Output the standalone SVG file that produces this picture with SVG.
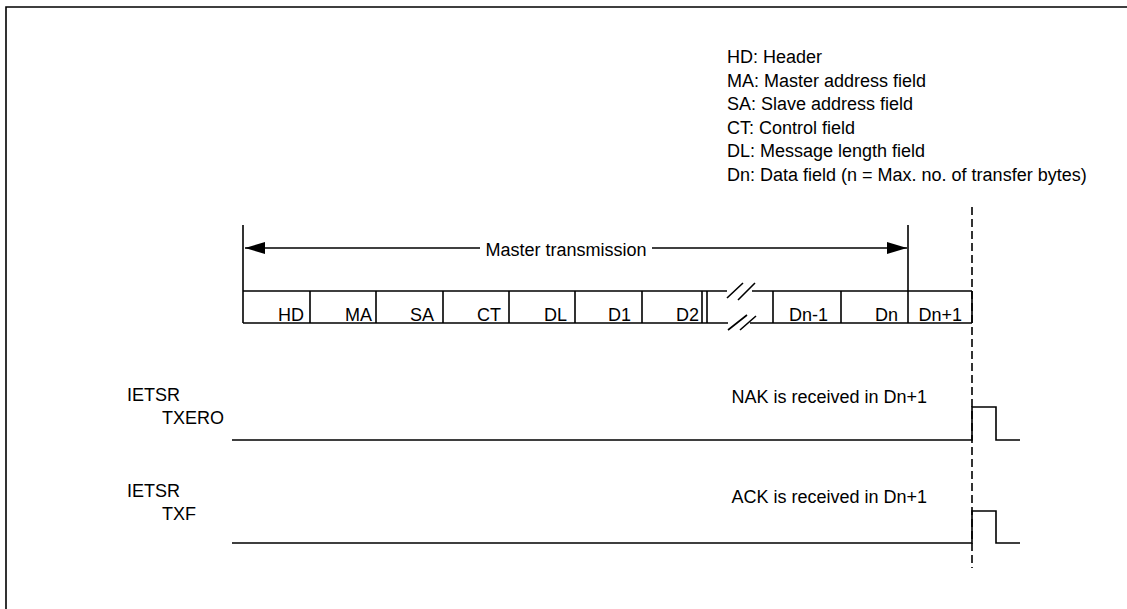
<svg xmlns="http://www.w3.org/2000/svg" width="1127" height="609" viewBox="0 0 1127 609">
<defs>
<style>
text{font-family:"Liberation Sans",Arial,sans-serif;font-size:18px;fill:#000}
.ln{stroke:#000;stroke-width:1.6;fill:none}
.e{text-anchor:end}
</style>
<marker id="ah" viewBox="0 0 20 12" refX="20" refY="6" markerWidth="20" markerHeight="12" markerUnits="userSpaceOnUse" orient="auto-start-reverse">
<path d="M0,0 L20,6 L0,12 Z" fill="#000"/>
</marker>
</defs>
<rect width="1127" height="609" fill="#fff"/>
<g id="frame">
<path class="ln" d="M6,609 V7 H1127" stroke-width="2"/>
</g>
<g id="legend">
<text x="727" y="63">HD: Header</text>
<text x="727" y="87">MA: Master address field</text>
<text x="727" y="110">SA: Slave address field</text>
<text x="727" y="134">CT: Control field</text>
<text x="727" y="157">DL: Message length field</text>
<text x="727" y="181">Dn: Data field (n = Max. no. of transfer bytes)</text>
</g>
<g id="connectors">
<line class="ln" x1="243" y1="225" x2="243" y2="323"/>
<line class="ln" x1="908" y1="225" x2="908" y2="323"/>
<line class="ln" x1="245" y1="248" x2="480" y2="248" marker-start="url(#ah)"/>
<line class="ln" x1="652" y1="248" x2="907" y2="248" marker-end="url(#ah)"/>
<line class="ln" x1="972" y1="207" x2="972" y2="568" stroke-dasharray="8,4"/>
</g>
<g id="master-transmission">
<text x="566" y="256" text-anchor="middle">Master transmission</text>
</g>
<g id="frame-fields">
<path class="ln" d="M243,291 H727 M752,291 H972 M243,323 H728 M750,323 H972"/>
<path class="ln" d="M310,291 V323 M376,291 V323 M443,291 V323 M509,291 V323 M575,291 V323 M642,291 V323 M702,291 V323 M707,291 V323 M773,291 V323 M841,291 V323 M972,291 V323"/>
<path class="ln" d="M727,298 L743,283 M738,300 L755,283 M728,330 L747,315 M740,330 L756,316"/>
<text class="e" x="304" y="321">HD</text>
<text class="e" x="372" y="321">MA</text>
<text class="e" x="434" y="321">SA</text>
<text class="e" x="501" y="321">CT</text>
<text class="e" x="567" y="321">DL</text>
<text class="e" x="631" y="321">D1</text>
<text class="e" x="699" y="321">D2</text>
<text class="e" x="828" y="321">Dn-1</text>
<text class="e" x="898" y="321">Dn</text>
<text class="e" x="962" y="321">Dn+1</text>
</g>
<g id="txero">
<text x="127" y="401">IETSR</text>
<text x="162" y="424">TXERO</text>
<text class="e" x="927" y="403">NAK is received in Dn+1</text>
<path class="ln" d="M232,440 H972 V407 H996 V440 H1020"/>
</g>
<g id="txf">
<text x="127" y="497">IETSR</text>
<text x="162" y="520">TXF</text>
<text class="e" x="927" y="503">ACK is received in Dn+1</text>
<path class="ln" d="M232,543 H972 V511 H996 V543 H1020"/>
</g>
</svg>
